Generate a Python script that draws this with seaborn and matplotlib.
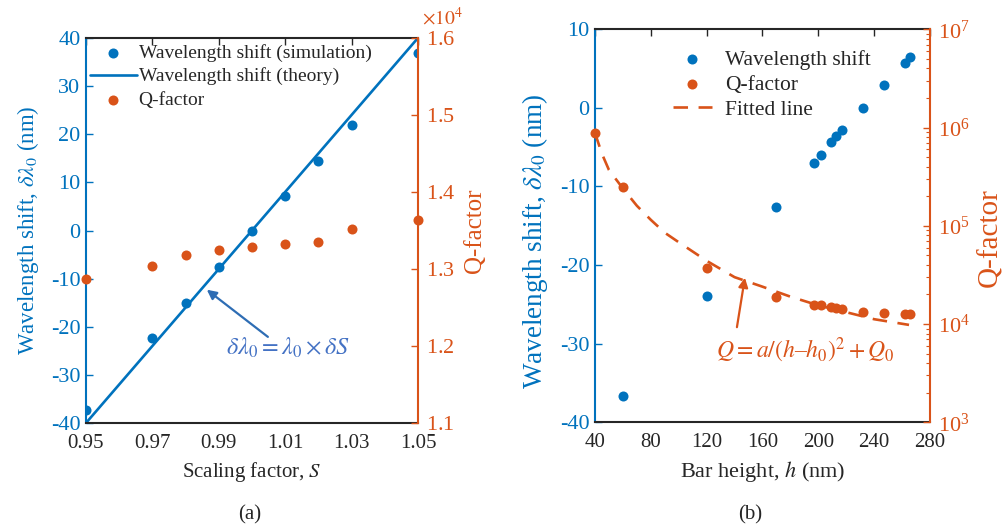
import numpy as np
import pandas as pd
import seaborn as sns
import matplotlib.pyplot as plt
from matplotlib.ticker import ScalarFormatter, LogLocator

sns.set_style("white")
plt.rcParams['font.family'] = ['Liberation Serif', 'DejaVu Serif']
plt.rcParams['mathtext.fontset'] = 'stix'
plt.rcParams['axes.unicode_minus'] = False

BLUE = '#0072BD'
ORANGE = '#D95319'
DARK = '#262626'

# panel (a) data
scale_s = [0.95, 0.97, 0.98, 0.99, 1.00, 1.01, 1.02, 1.03, 1.05]
shift_sim = [-37.2, -22.3, -15.0, -7.6, 0.0, 7.2, 14.5, 21.9, 36.9]
theory_s = [0.95, 1.05]
theory_shift = [-40.0, 40.0]
q_scale = [12870, 13040, 13180, 13250, 13290, 13320, 13355, 13520, 13630]

# panel (b) data
height_h = [60, 120, 170, 197, 202, 209, 213, 217, 232, 247, 262, 266]
shift_h = [-36.7, -23.9, -12.6, -7.0, -6.0, -4.4, -3.6, -2.8, 0.0, 2.9, 5.7, 6.5]
q_height = [40, 60, 120, 170, 197, 202, 209, 213, 217, 232, 247, 262, 266]
q_h = [8.8e5, 2.46e5, 3.75e4, 1.88e4, 1.58e4, 1.55e4, 1.48e4, 1.46e4, 1.43e4,
       1.34e4, 1.30e4, 1.26e4, 1.26e4]
fit_h = [40, 45, 50, 60, 70, 80, 90, 100, 120, 140, 160, 180, 200, 220, 240, 265]
fit_q = [8.8e5, 5.4e5, 3.7e5, 2.4e5, 1.6e5, 1.15e5, 8.5e4, 6.8e4, 4.4e4,
         3.0e4, 2.4e4, 1.9e4, 1.55e4, 1.32e4, 1.12e4, 9.8e3]

fig = plt.figure(figsize=(10.02, 5.27), dpi=100)
ax1 = fig.add_axes([0.0858, 0.1973, 0.3313, 0.7306])
ax1r = ax1.twinx()
ax2 = fig.add_axes([0.5938, 0.1987, 0.3343, 0.7457])
ax2r = ax2.twinx()

ms = 52
# ---- (a)
sns.scatterplot(x=scale_s, y=shift_sim, ax=ax1, color=BLUE, s=ms, linewidth=0,
                label='Wavelength shift (simulation)', legend=False, zorder=3)
sns.lineplot(x=theory_s, y=theory_shift, ax=ax1, color=BLUE, linewidth=1.9,
             label='Wavelength shift (theory)', legend=False)
sns.scatterplot(x=scale_s, y=q_scale, ax=ax1r, color=ORANGE, s=ms, linewidth=0,
                label='Q-factor', legend=False, clip_on=False)

ax1.set_xlim(0.95, 1.05)
ax1.set_ylim(-40, 40)
ax1r.set_ylim(11000, 16000)
ax1.set_xticks([0.95, 0.97, 0.99, 1.01, 1.03, 1.05])
ax1.set_yticks(range(-40, 41, 10))
ax1r.set_yticks([11000, 12000, 13000, 14000, 15000, 16000])
fmt = ScalarFormatter(useMathText=True)
fmt.set_powerlimits((0, 0))
ax1r.yaxis.set_major_formatter(fmt)
ax1r.yaxis.get_offset_text().set_visible(False)
ax1r.text(1.012, 1.024, r'$\times10^4$', transform=ax1r.transAxes, color=ORANGE,
          fontsize=14, ha='left', va='bottom')

ax1.set_xlabel('Scaling factor, $S$', fontsize=15, color=DARK, labelpad=5)
ax1.set_ylabel(r'Wavelength shift, $\delta\lambda_0$ (nm)', fontsize=16.5, color=BLUE, labelpad=7)
ax1r.set_ylabel('Q-factor', fontsize=18, color=ORANGE, labelpad=6)

ax1.annotate('', xy=(0.9864, -12.3), xytext=(1.0048, -22.1),
             arrowprops=dict(arrowstyle='-|>', color='#2E6DB4', lw=1.6,
                             mutation_scale=14, shrinkA=0, shrinkB=0))
ax1.text(1.0108, -24.4, r'$\delta\lambda_0 = \lambda_0\times\delta S$',
         color='#4472C4', fontsize=17.5, ha='center', va='center')

h1, l1 = ax1.get_legend_handles_labels()
h2, l2 = ax1r.get_legend_handles_labels()
ax1r.legend(h1 + h2, l1 + l2, loc='upper left', bbox_to_anchor=(0.0898, 0.917),
            bbox_transform=fig.transFigure, frameon=False, fontsize=14,
            handlelength=2.4, handletextpad=0.1, labelspacing=0.3, borderaxespad=0,
            borderpad=0)

# ---- (b)
sns.scatterplot(x=height_h, y=shift_h, ax=ax2, color=BLUE, s=ms, linewidth=0,
                label='Wavelength shift', legend=False, zorder=3)
sns.scatterplot(x=q_height, y=q_h, ax=ax2r, color=ORANGE, s=ms, linewidth=0,
                label='Q-factor', legend=False, clip_on=False)
sns.lineplot(x=fit_h, y=fit_q, ax=ax2r, color=ORANGE, linewidth=1.9,
             linestyle=(0, (5.5, 4)), label='Fitted line', legend=False)

ax2.set_xlim(40, 280)
ax2.set_ylim(-40, 10)
ax2r.set_yscale('log')
ax2r.set_ylim(1e3, 1e7)
ax2.set_xticks(range(40, 281, 40))
ax2.set_yticks(range(-40, 11, 10))
ax2r.yaxis.set_major_locator(LogLocator(base=10, numticks=10))
ax2r.yaxis.set_minor_locator(LogLocator(base=10, subs=np.arange(2, 10), numticks=20))

ax2.set_xlabel('Bar height, $h$ (nm)', fontsize=16, color=DARK, labelpad=5)
ax2.set_ylabel(r'Wavelength shift, $\delta\lambda_0$ (nm)', fontsize=19.5, color=BLUE)
ax2.yaxis.set_label_coords(-0.133, 0.46)
ax2r.set_ylabel('Q-factor', fontsize=21, color=ORANGE)
ax2r.yaxis.set_label_coords(1.14, 0.47)

ax2.annotate('', xy=(147.4, -21.6), xytext=(141.7, -27.9),
             arrowprops=dict(arrowstyle='-|>', color=ORANGE, lw=1.6,
                             mutation_scale=14, shrinkA=0, shrinkB=0))
ax2.text(191, -30.8, r'$Q = a/(h$–$h_0)^2 + Q_0$', color=ORANGE, fontsize=17,
         ha='center', va='center')

h1, l1 = ax2.get_legend_handles_labels()
h2, l2 = ax2r.get_legend_handles_labels()
ax2r.legend(h1 + h2, l1 + l2, loc='upper left', bbox_to_anchor=(0.6717, 0.905),
            bbox_transform=fig.transFigure, frameon=False, fontsize=15.5,
            handlelength=1.8, handletextpad=0.6, labelspacing=0.22, borderaxespad=0,
            borderpad=0)

# styling of both panels
for ax, axr in [(ax1, ax1r), (ax2, ax2r)]:
    ax.spines['right'].set_visible(False)
    ax.spines['left'].set_color(BLUE)
    for sp in ['top', 'bottom']:
        ax.spines[sp].set_color(DARK)
    for sp in ['left', 'top', 'bottom']:
        axr.spines[sp].set_visible(False)
    axr.spines['right'].set_color(ORANGE)
    for sp in ax.spines.values():
        sp.set_linewidth(1.5)
    axr.spines['right'].set_linewidth(1.5)
    ax.tick_params(axis='x', which='both', direction='in', top=True, length=5,
                   width=1, labelsize=15, colors=DARK, pad=8)
    ax.tick_params(axis='y', direction='in', length=5, width=1, labelsize=16,
                   colors=BLUE, pad=4)
    axr.tick_params(axis='y', which='major', direction='in', length=5, width=1,
                    labelsize=16, colors=ORANGE, pad=6)
    axr.tick_params(axis='y', which='minor', direction='in', length=3, width=0.8,
                    colors=ORANGE)
    axr.set_zorder(ax.get_zorder() + 1)
    axr.patch.set_visible(False)

fig.text(0.2495, 0.0228, '(a)', fontsize=15, ha='center', va='center', color=DARK)
fig.text(0.7485, 0.0228, '(b)', fontsize=15, ha='center', va='center', color=DARK)

fig.savefig('out.png', dpi=100, facecolor='white')
